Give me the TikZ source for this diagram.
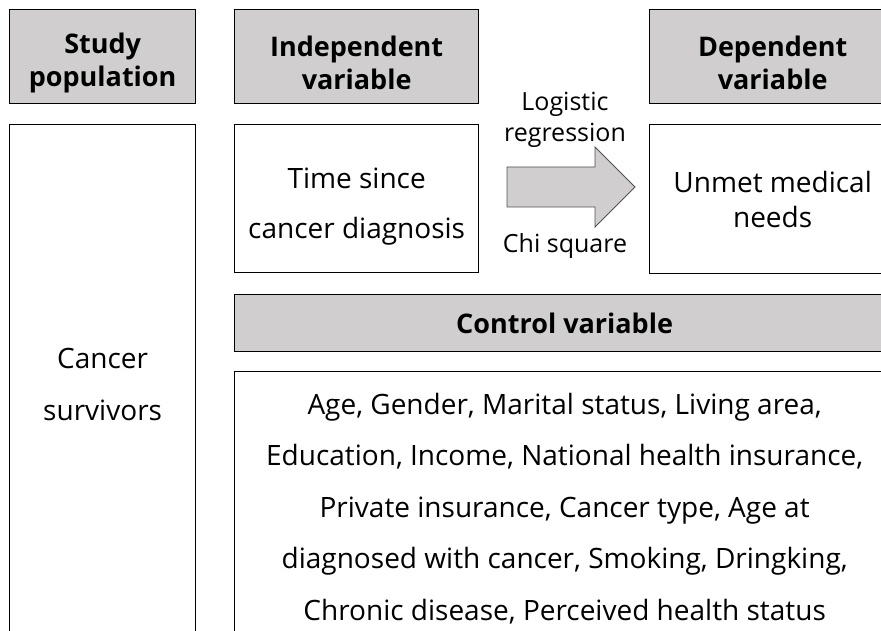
\documentclass[tikz,border=0pt]{standalone}
\usepackage{fontspec}
\setmainfont{Open Sans}
\usetikzlibrary{positioning}

\definecolor{boxgray}{RGB}{208,206,206}
\definecolor{arrowline}{RGB}{80,80,80}
\tikzset{
  headbox/.style={draw, line width=1.3pt, fill=boxgray, anchor=north west, inner sep=0pt},
  headtext/.style={align=center, font=\fontsize{27}{33}\selectfont\bfseries, yshift=-6pt},
  itembox/.style={draw, line width=1.3pt, fill=white, anchor=north west,
    align=center, inner sep=0pt},
}

\begin{document}
\begin{tikzpicture}[x=1pt, y=-1pt]

    % Page frame
    \useasboundingbox (0,0) rectangle (881,631);
    \clip (0,0) rectangle (881,631);

    % Header row
    \node[headbox, minimum width=186pt, minimum height=94pt,
      label={[headtext]center:Study\\population}] (studyhead) at (9,9) {};
    \node[headbox, minimum width=244pt, minimum height=94pt,
      label={[headtext]center:Independent\\variable}] (indephead) at (234,9) {};
    \node[headbox, minimum width=246pt, minimum height=94pt,
      label={[headtext]center:Dependent\\variable}] (dephead) at (649,9) {};

    % Study population
    \node[itembox, minimum width=186pt, minimum height=520pt,
      font=\fontsize{28}{52}\selectfont] (survivors) at (9,124) {Cancer\\survivors};

    % Independent and dependent variables
    \node[itembox, minimum width=244pt, minimum height=148pt,
      label={[align=center, font=\fontsize{28}{50}\selectfont, yshift=-8pt]center:Time since\\cancer diagnosis}] (timebox) at (234,124) {};
    \node[itembox, minimum width=246pt, minimum height=149pt,
      font=\fontsize{28}{35}\selectfont] (unmet) at (649,124) {Unmet medical\\needs};

    % Analysis arrow
    \draw[arrowline, line width=0.8pt, fill=boxgray]
      (507,167) -- (595,167) -- (595,147) -- (635,187) -- (595,227) -- (595,207) -- (507,207) -- cycle;
    \node[align=center, font=\fontsize{25}{31}\selectfont] (logit) at (565,120) {Logistic\\regression};
    \node[font=\fontsize{25}{31}\selectfont] (chisq) at (565,246) {Chi square};

    % Control variables
    \node[headbox, minimum width=660pt, minimum height=57pt,
      label={[headtext, yshift=6pt]center:Control variable}] (ctrlhead) at (234,294) {};
    \node[itembox, minimum width=660pt, minimum height=274pt,
      font=\fontsize{28}{51.5}\selectfont] (ctrlbox) at (234,371)
      {Age, Gender, Marital status, Living area,\\
       Education, Income, National health insurance,\\
       Private insurance, Cancer type, Age at\\
       diagnosed with cancer, Smoking, Dringking,\\
       Chronic disease, Perceived health status};

\end{tikzpicture}
\end{document}
